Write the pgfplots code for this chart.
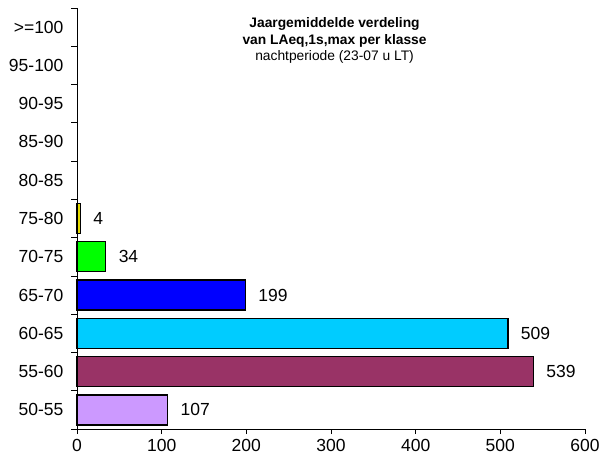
\documentclass[border=0pt]{standalone}
\usepackage{fontspec}
\setmainfont{Liberation Sans}
\usepackage{pgfplots}
\pgfplotsset{compat=1.18}
\definecolor{c5055}{RGB}{204,153,255}
\definecolor{c5560}{RGB}{153,51,102}
\definecolor{c6065}{RGB}{0,204,255}
\definecolor{c6570}{RGB}{0,0,255}
\definecolor{c7075}{RGB}{0,255,0}
\definecolor{c7580}{RGB}{230,220,0}
\begin{document}
\begin{tikzpicture}
\begin{axis}[
  scale only axis,
  width=508pt, height=421pt,
  xbar, bar width=30pt, bar shift=0pt,
  xmin=0, xmax=600,
  ymin=-0.5, ymax=10.5,
  xtick={0,100,...,600},
  ytick={0,...,10},
  yticklabels={50-55,55-60,60-65,65-70,70-75,75-80,80-85,85-90,90-95,95-100,{>=100}},
  y tick style={draw=none},
  axis x line*=bottom, axis y line*=left,
  axis line style={-, line width=0.9pt},
  tick align=outside,
  major tick length=5pt,
  x tick style={black, line width=0.6pt},
  tick label style={font=\fontsize{17.5}{20}\selectfont},
  y tick label style={xshift=-5pt},
  x tick label style={yshift=-2pt},
  /pgf/number format/assume math mode=true,
  nodes near coords,
  nodes near coords style={anchor=west, xshift=9pt, font=\fontsize{17.5}{20}\selectfont, black},
  every axis plot/.append style={draw=black, line width=1.3pt},
  clip=false,
]
\addplot[fill=c5055] coordinates {(107,0)};
\addplot[fill=c5560] coordinates {(539,1)};
\addplot[fill=c6065] coordinates {(509,2)};
\addplot[fill=c6570] coordinates {(199,3)};
\addplot[fill=c7075] coordinates {(34,4)};
\addplot[fill=c7580] coordinates {(4,5)};
\node[anchor=north, align=center, yshift=-6pt, font=\fontsize{13.8}{16.5}\selectfont]
  at (rel axis cs:0.507,1)
  {\textbf{Jaargemiddelde verdeling}\\\textbf{van LAeq,1s,max per klasse}\\nachtperiode (23-07 u LT)};
\end{axis}
% category boundary ticks on the y axis
\foreach \k in {0,...,11}
  \draw[black, line width=0.7pt] ([yshift=\k*38.2727pt]current axis.south west) -- ++(-6pt,0pt);
\pgfresetboundingbox
\path (current axis.south west) ++(-77pt,-32pt) coordinate (bl);
\path (current axis.north east) ++(15pt,8pt) coordinate (tr);
\path (bl) rectangle (tr);
\end{tikzpicture}
\end{document}
